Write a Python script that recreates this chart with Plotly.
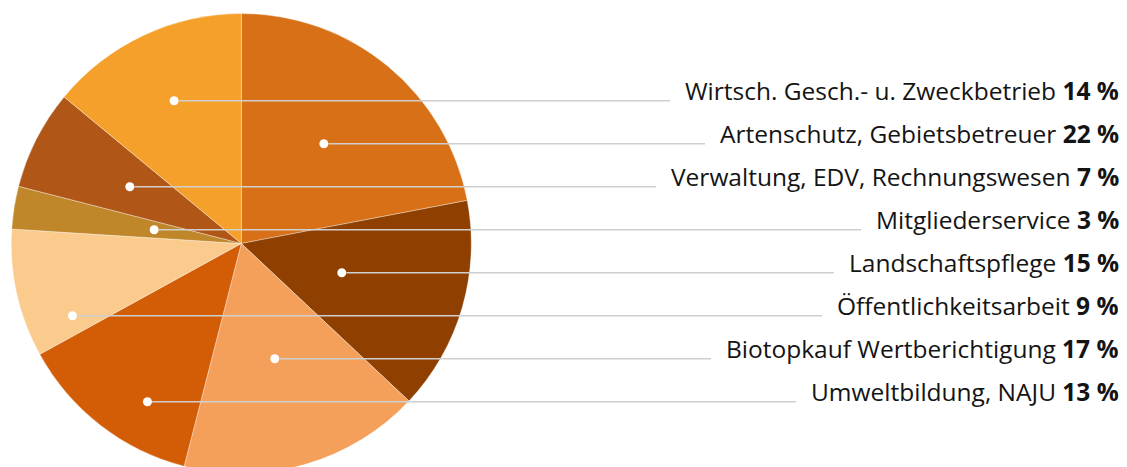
import math
import plotly.graph_objects as go

# ---- data (slices in clockwise order, starting at 12 o'clock) ----
labels = [
    "Artenschutz, Gebietsbetreuer",
    "Landschaftspflege",
    "Biotopkauf Wertberichtigung",
    "Umweltbildung, NAJU",
    "Öffentlichkeitsarbeit",
    "Mitgliederservice",
    "Verwaltung, EDV, Rechnungswesen",
    "Wirtsch. Gesch.- u. Zweckbetrieb",
]
values = [22, 15, 17, 13, 9, 3, 7, 14]
colors = ["#D87017", "#8F3F00", "#F4A05A", "#D35C06",
          "#FBCB8E", "#C0862A", "#B05718", "#F5A02A"]
# order of the labels in the right-hand list (top to bottom)
legend_order = [7, 0, 6, 5, 1, 4, 2, 3]

# ---- layout constants (pixels) ----
W, H = 1127, 480
CX, CY, R = 241.3, 243.5, 230.0
ROW_TOP, ROW_GAP = 100.7, 43.0
TEXT_RIGHT = 1119.5
PAD = 14
DOT_R = 4.5
FONT_SIZE = 24.5

fig = go.Figure()
fig.add_trace(go.Pie(
    labels=labels, values=values, sort=False, direction="clockwise",
    rotation=0, textinfo="none", hoverinfo="label+percent",
    marker=dict(colors=colors, line=dict(color="rgba(255,255,255,0.35)", width=1)),
    domain=dict(x=[(CX - R) / W, (CX + R) / W],
                y=[1 - (CY + R) / H, 1 - (CY - R) / H]),
    showlegend=False,
))

total = float(sum(values))
starts, ends = [], []
acc = 0.0
for v in values:
    starts.append(acc / total * 360.0)
    acc += v
    ends.append(acc / total * 360.0)


def anchor_point(i, row_y):
    """Point inside slice i lying on the horizontal row, close to the mid angle."""
    a0, a1 = starts[i], ends[i]
    w = a1 - a0
    mid = (a0 + a1) / 2
    dy = row_y - CY
    best = None
    n = 400
    for k in range(n + 1):
        th = a0 + 0.15 * w + 0.7 * w * k / n
        c = -math.cos(math.radians(th))
        if abs(c) < 1e-6:
            continue
        t = dy / c
        if 0.35 * R <= t <= 0.8 * R:
            score = abs(th - mid)
            if best is None or score < best[0]:
                best = (score, CX + t * math.sin(math.radians(th)))
    if best is None:
        th = math.radians(mid)
        return CX + 0.6 * R * math.sin(th)
    return best[1]


# text box tall enough that the leader line sits just under the baseline
box_h = 2 * (1.069 * FONT_SIZE + 1.0)

shapes, annotations = [], []
for row, i in enumerate(legend_order):
    y = ROW_TOP + row * ROW_GAP
    x = anchor_point(i, y)
    shapes.append(dict(type="circle", xref="paper", yref="paper",
                       x0=(x - DOT_R) / W, x1=(x + DOT_R) / W,
                       y0=1 - (y + DOT_R) / H, y1=1 - (y - DOT_R) / H,
                       fillcolor="white", line=dict(width=0), layer="above"))
    annotations.append(dict(
        x=x / W, y=1 - y / H, xref="paper", yref="paper",
        text=f"{labels[i]} <b>{values[i]} %</b>",
        showarrow=True, arrowhead=0, arrowwidth=1.4, arrowcolor="#cfcfcf",
        ax=TEXT_RIGHT + PAD - x, ay=0, standoff=DOT_R,
        xanchor="right", yanchor="middle", align="right",
        borderpad=PAD, height=box_h, valign="top",
        font=dict(family="Open Sans", size=FONT_SIZE, color="#141414"),
    ))

fig.update_layout(
    width=W, height=H,
    margin=dict(l=0, r=0, t=0, b=0),
    paper_bgcolor="white", plot_bgcolor="white",
    shapes=shapes, annotations=annotations,
    showlegend=False,
)

fig.write_html(
    "out.html",
    config={"displayModeBar": False},
    post_script="document.body.style.margin='0';document.body.style.overflow='hidden';",
)
